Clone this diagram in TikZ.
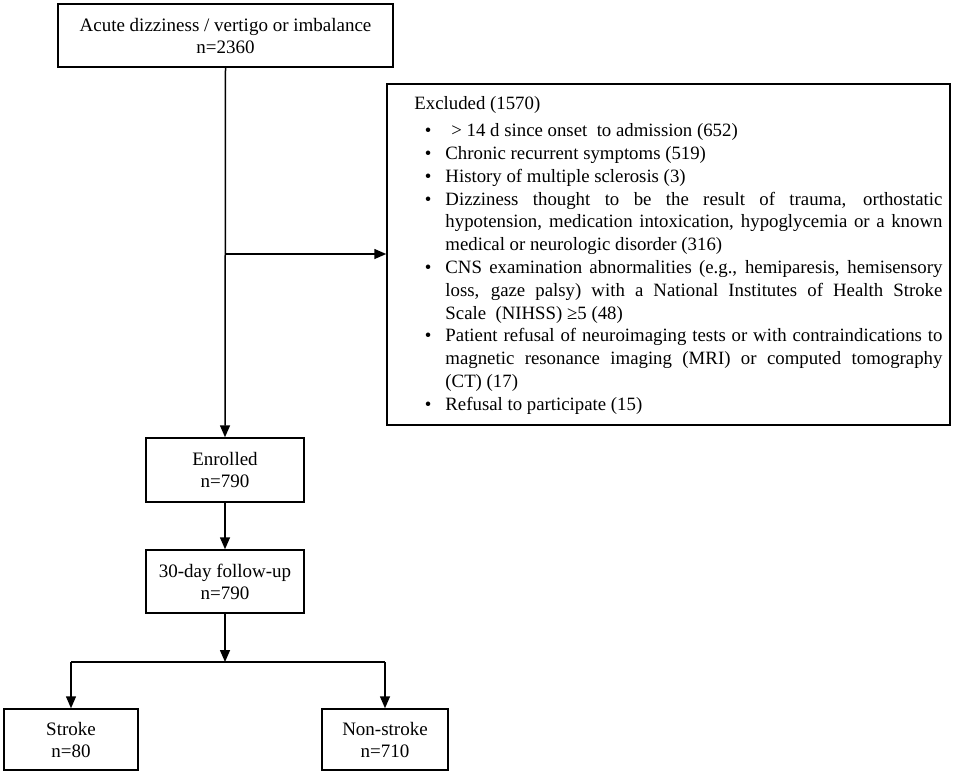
\documentclass[tikz,border=0pt]{standalone}
\usepackage{fontspec}
\setmainfont{Liberation Serif}
\usetikzlibrary{arrows.meta,calc}
\tikzset{
  box/.style={draw, line width=1.5pt, align=center, inner sep=0pt,
    font=\fontsize{19}{22}\selectfont},
  conn/.style={line width=1.5pt},
  arr/.style={line width=1.5pt, -{Triangle[length=12pt,width=10pt]}},
}
\begin{document}
\begin{tikzpicture}[x=1pt,y=-1pt]
\useasboundingbox (0,0) rectangle (957,777);
\node[box, minimum width=335pt, minimum height=63pt] (top) at (225.5,35.5)
  {Acute dizziness / vertigo or imbalance\\n=2360};
\node[box, minimum width=563pt, minimum height=341pt] (excl) at (668.5,254.5) {};
\node[anchor=west, inner sep=0pt, text width=528pt, align=justify,
  font=\fontsize{18.8}{22.8}\selectfont] (excltext) at ($(excl.west)+(28,1)$) {%
  \tolerance=10000\hyphenpenalty=10000\emergencystretch=0pt
  Excluded (1570)
  \begin{list}{\textbullet}{\setlength{\leftmargin}{31pt}\setlength{\labelwidth}{10pt}%
    \setlength{\labelsep}{14pt}\setlength{\itemsep}{0pt}\setlength{\parsep}{0pt}%
    \setlength{\topsep}{4pt}\setlength{\partopsep}{0pt}\setlength{\rightmargin}{0pt}}
  \item \hspace{6pt}> 14 d since onset\ \ to admission (652)
  \item Chronic recurrent symptoms (519)
  \item History of multiple sclerosis (3)
  \item Dizziness thought to be the result of trauma, orthostatic\linebreak
    hypotension, medication intoxication, hypoglycemia or a known\linebreak
    medical or neurologic disorder (316)
  \item CNS examination abnormalities (e.g., hemiparesis, hemisensory\linebreak
    loss, gaze palsy) with a National Institutes of Health Stroke\linebreak
    Scale\ \ (NIHSS) ≥5 (48)
  \item Patient refusal of neuroimaging tests or with contraindications to\linebreak
    magnetic resonance imaging (MRI) or computed tomography\linebreak
    (CT) (17)
  \item Refusal to participate (15)
  \end{list}};
\node[box, minimum width=158pt, minimum height=64pt] (enr) at (225,470)
  {Enrolled\\n=790};
\node[box, minimum width=158pt, minimum height=63pt] (fu) at (225,581.5)
  {30-day follow-up\\n=790};
\node[box, minimum width=134pt, minimum height=61pt] (stroke) at (71,739.5)
  {Stroke\\n=80};
\node[box, minimum width=126pt, minimum height=61pt] (non) at (385,739.5)
  {Non-stroke\\n=710};
\coordinate (j) at (225,254);
\coordinate (sp) at (225,662);
\draw[arr] (top.south) -- (enr.north);
\draw[arr] (j) -- (j -| excl.west);
\draw[arr] (enr.south) -- (fu.north);
\draw[arr] (fu.south) -- (sp);
\draw[conn] (stroke.north |- sp) -- (non.north |- sp);
\draw[arr] (stroke.north |- sp) -- (stroke.north);
\draw[arr] (non.north |- sp) -- (non.north);
\end{tikzpicture}
\end{document}
